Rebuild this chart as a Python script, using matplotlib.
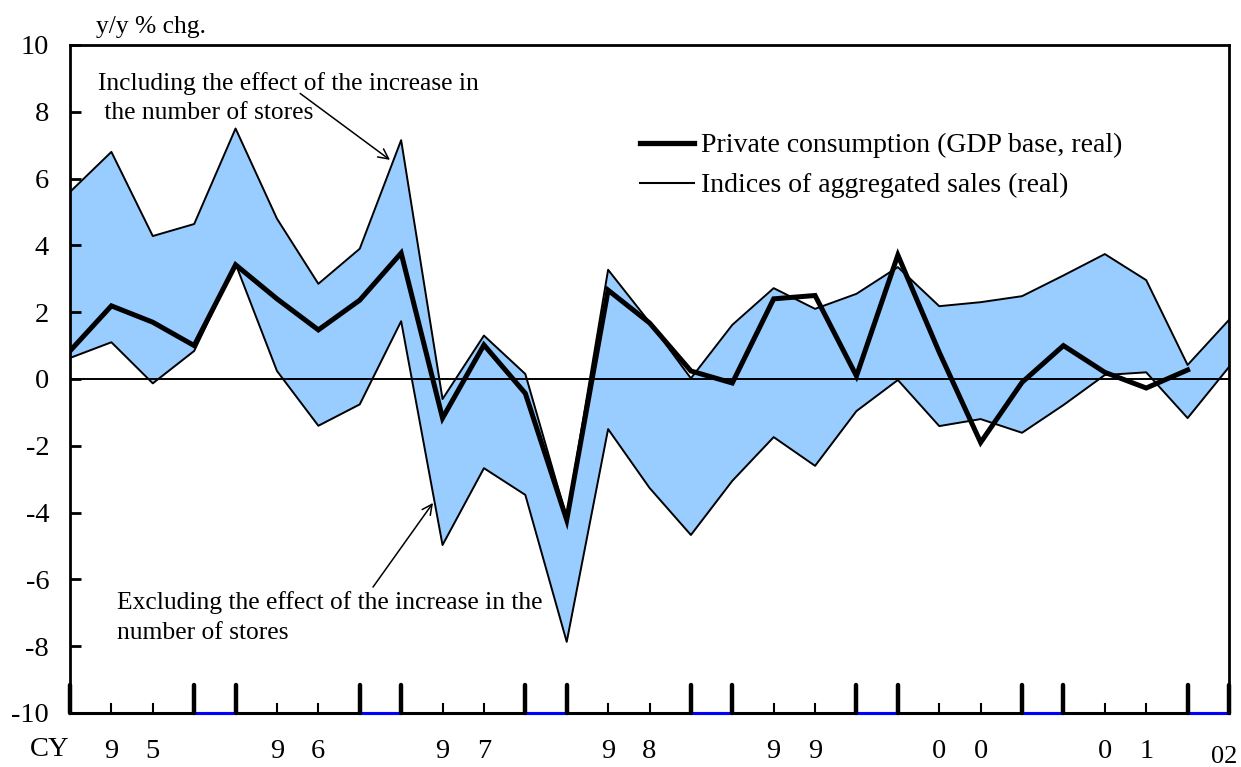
import numpy as np
import matplotlib
matplotlib.use('Agg')
import matplotlib.pyplot as plt
from matplotlib.lines import Line2D

plt.rcParams['font.family'] = ['Liberation Serif', 'DejaVu Serif']

#-- quarterly data, 1995Q1 .. 2002Q1
quarters = np.arange(29)
sales_incl = [5.6, 6.8, 4.28, 4.64, 7.5, 4.8, 2.85, 3.9, 7.15, -0.6,
              1.3, 0.15, -4.15, 3.27, 1.7, 0.02, 1.62, 2.72, 2.1, 2.55,
              3.35, 2.18, 2.3, 2.48, 3.1, 3.74, 2.96, 0.42, 1.77]
sales_excl = [0.63, 1.1, -0.13, 0.84, 3.45, 0.24, -1.4, -0.76, 1.73, -4.97,
              -2.67, -3.47, -7.87, -1.5, -3.26, -4.67, -3.05, -1.74, -2.6, -0.96,
              -0.03, -1.41, -1.2, -1.61, -0.78, 0.12, 0.2, -1.17, 0.36]
private_cons = [0.84, 2.19, 1.7, 1.0, 3.42, 2.4, 1.47, 2.36, 3.77, -1.17,
                1.02, -0.43, -4.22, 2.66, 1.68, 0.24, -0.12, 2.4, 2.5, 0.09,
                3.71, 0.8, -1.9, -0.1, 1.0, 0.2, -0.27, 0.27]
quarter_labels = ['', '9', '5', '', '', '9', '6', '', '', '9', '7', '', '', '9', '8',
                  '', '', '9', '9', '', '', '0', '0', '', '', '0', '1', '', '']
year_edges = [3, 7, 11, 15, 19, 23, 27]

fs_tick = 20.5   #-- axis labels
fs_ann = 18.4    #-- annotations
fs_leg = 20.0    #-- legend
fig = plt.figure(figsize=(12.41, 7.67), dpi=100)
ax = fig.add_axes([70/1241., 1-713/767., (1229-70)/1241., (713-45)/767.])

ax.fill_between(quarters, sales_excl, sales_incl, color='#99CCFF', lw=0)
ax.plot(quarters, sales_incl, color='k', lw=1.4)
ax.plot(quarters, sales_excl, color='k', lw=1.4)
ax.plot(np.arange(len(private_cons)), private_cons, color='k', lw=3.6,
        solid_joinstyle='miter')
ax.axhline(0, color='k', lw=1.4)

ax.set_xlim(0, 28)
ax.set_ylim(-10, 10)
ax.set_yticks(np.arange(-10, 11, 2))
ax.set_yticklabels(['%d' % v for v in np.arange(-10, 11, 2)], fontsize=fs_tick)
ax.tick_params(axis='y', direction='in', length=8, width=2, pad=15)
ax.set_xticks(quarters)
ax.set_xticklabels(quarter_labels, fontsize=fs_tick)
ax.tick_params(axis='x', length=0, pad=19)

for s in ['left', 'top', 'right']:
    ax.spines[s].set_linewidth(2)
ax.spines['bottom'].set_visible(False)

#-- bottom axis with thick year-edge ticks and blue gaps
ax.plot([0, 28], [-10, -10], color='k', lw=2.2, clip_on=False, zorder=5)
for e in year_edges:
    ax.plot([e, e+1], [-10, -10], color='#0000FF', lw=2.2, clip_on=False, zorder=6)
major = [0] + [v for e in year_edges for v in (e, e+1)]
for m in major:
    ax.plot([m, m], [-10, -10+28/33.4], color='k', lw=3.2, clip_on=False,
            zorder=7, solid_capstyle='round')
for q in quarters:
    if q not in major:
        ax.plot([q, q], [-10, -10+9/33.4], color='k', lw=1.5, clip_on=False, zorder=7)

fig.text(96/1241., 1-27/767., 'y/y % chg.', fontsize=fs_ann, va='center', ha='left')
fig.text(50/1241., 1-750/767., 'CY', fontsize=fs_tick, va='center', ha='center')
fig.text(1224/1241., 1-757/767., '02', fontsize=19, va='center', ha='center')

#-- annotations
ax.text(0.676, 9.18, 'Including the effect of the increase in\n the number of stores',
        fontsize=fs_ann, va='top', ha='left', linespacing=1.4)
ax.annotate('', xy=(7.73, 6.56), xytext=(5.56, 8.55),
            arrowprops=dict(arrowstyle='->', color='k', lw=1.1, shrinkA=0, shrinkB=0,
                            mutation_scale=18))
ax.text(1.135, -6.35, 'Excluding the effect of the increase in the\nnumber of stores',
        fontsize=fs_ann, va='top', ha='left', linespacing=1.45)
ax.annotate('', xy=(8.77, -3.71), xytext=(7.32, -6.23),
            arrowprops=dict(arrowstyle='->', color='k', lw=1.1, shrinkA=0, shrinkB=0,
                            mutation_scale=18))

handles = [Line2D([], [], color='k', lw=3.8),
           Line2D([], [], color='k', lw=1.5)]
ax.legend(handles, ['Private consumption (GDP base, real)',
                    'Indices of aggregated sales (real)'],
          loc='upper left', bbox_to_anchor=(640/1241., 1-133/767.),
          bbox_transform=fig.transFigure, frameon=False, fontsize=fs_leg,
          handlelength=1.95, handletextpad=0.25, labelspacing=0.52,
          borderpad=0, borderaxespad=0)

fig.savefig('out.png', dpi=100)
